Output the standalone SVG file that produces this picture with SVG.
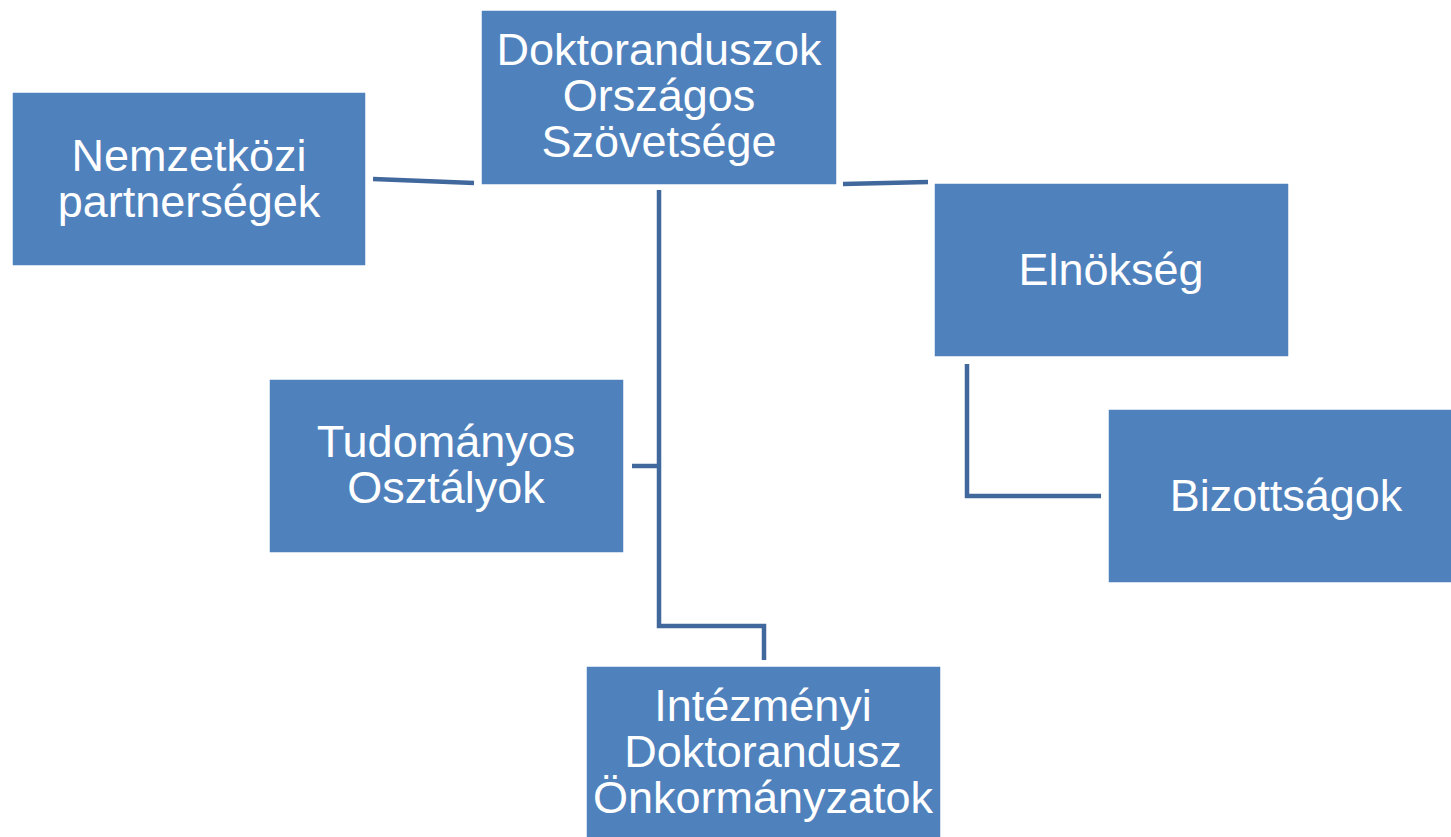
<svg xmlns="http://www.w3.org/2000/svg" width="1451" height="837" viewBox="0 0 1451 837">
<style>
.box{fill:#4F81BD;stroke:#ffffff;stroke-width:1.5}
.t{font-family:"Liberation Sans",Arial,sans-serif;font-size:45px;fill:#ffffff;text-anchor:middle}
.c{fill:none;stroke:#41689C;stroke-width:4.5;stroke-linejoin:miter}
</style>
<rect width="1451" height="837" fill="#ffffff"/>
<g id="connectors">
<polyline class="c" points="373,179 474,183"/>
<polyline class="c" points="843,184 928,182"/>
<polyline class="c" points="659,190 659,626 764,626 764,660"/>
<polyline class="c" points="632,466 659,466"/>
<polyline class="c" points="967,364 967,496 1101,496"/>
</g>
<g id="n-dosz">
<rect class="box" x="481" y="10" width="356" height="175"/>
<text class="t" x="659" y="65">Doktoranduszok</text>
<text class="t" x="659" y="111">Országos</text>
<text class="t" x="659" y="157">Szövetsége</text>
</g>
<g id="n-nemzetkozi">
<rect class="box" x="12" y="92" width="354" height="174"/>
<text class="t" x="189" y="171">Nemzetközi</text>
<text class="t" x="189" y="217">partnerségek</text>
</g>
<g id="n-elnokseg">
<rect class="box" x="934" y="183" width="355" height="174"/>
<text class="t" x="1111" y="285">Elnökség</text>
</g>
<g id="n-tudomanyos">
<rect class="box" x="269" y="379" width="355" height="174"/>
<text class="t" x="446" y="457">Tudományos</text>
<text class="t" x="446" y="503">Osztályok</text>
</g>
<g id="n-bizottsagok">
<rect class="box" x="1108" y="409" width="356" height="174"/>
<text class="t" x="1286" y="511">Bizottságok</text>
</g>
<g id="n-intezmenyi">
<rect class="box" x="586" y="666" width="355" height="174"/>
<text class="t" x="763" y="721">Intézményi</text>
<text class="t" x="763" y="767">Doktorandusz</text>
<text class="t" x="763" y="813">Önkormányzatok</text>
</g>
</svg>
